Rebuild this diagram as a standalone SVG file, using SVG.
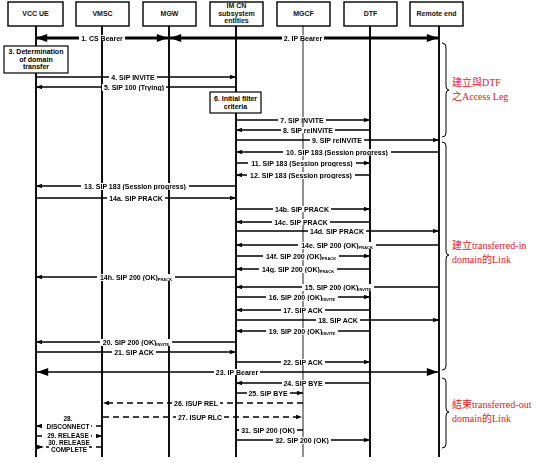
<svg xmlns="http://www.w3.org/2000/svg" width="550" height="463" viewBox="0 0 550 463">
<style>
.hdr{fill:#fff;stroke:#000;stroke-width:1.4}
.ht{font-family:"Liberation Sans",Arial,sans-serif;font-size:7px;font-weight:bold;text-anchor:middle;fill:#111}
.life{stroke:#111;stroke-width:2}
.thin{stroke:#222;stroke-width:1}
.msg{stroke:#000;stroke-width:1.3;fill:none}
.dash{stroke:#000;stroke-width:1.5;fill:none;stroke-dasharray:6 4}
.bear{stroke:#000;stroke-width:3;fill:none}
.lbl{font-family:"Liberation Sans",Arial,sans-serif;font-size:7px;font-weight:bold;text-anchor:middle;fill:#000;filter:url(#bg)}
.sm{font-size:6.5px}
.sub{font-size:4px}
.box{fill:#fff;stroke:#000;stroke-width:1.2}
.bt{font-family:"Liberation Sans",Arial,sans-serif;font-size:7px;font-weight:bold;text-anchor:middle;fill:#000}
.brace{fill:none;stroke:#000;stroke-width:1}
.red{font-family:"Liberation Serif","Noto Sans CJK TC",serif;font-size:10px;fill:#e3161b}
</style>
<defs>
<filter id="bg" x="-0.03" y="0.1" width="1.06" height="0.8" color-interpolation-filters="sRGB"><feFlood flood-color="#fff"/><feComposite in="SourceGraphic"/></filter>
<marker id="ah" viewBox="0 0 8 6" refX="8" refY="3" markerWidth="7" markerHeight="4.5" orient="auto-start-reverse" markerUnits="userSpaceOnUse"><path d="M0,0 L8,3 L0,6 z" fill="#000"/></marker>
<marker id="big" viewBox="0 0 14 10" refX="14" refY="5" markerWidth="13" markerHeight="8" orient="auto-start-reverse" markerUnits="userSpaceOnUse"><path d="M0,0 L14,5 L0,10 z" fill="#000"/></marker>
</defs>
<rect width="550" height="463" fill="#fff"/>

<g id="vcc-ue">
<line class="life" x1="36" y1="26" x2="36" y2="457"/>
<rect class="hdr" x="8" y="2" width="55" height="24"/>
<text class="ht" x="35.5" y="16">VCC UE</text>
</g>
<g id="vmsc">
<line class="life" x1="102" y1="26" x2="102" y2="457"/>
<rect class="hdr" x="76" y="2" width="53" height="24"/>
<text class="ht" x="102.5" y="16">VMSC</text>
</g>
<g id="mgw">
<line class="life" x1="169" y1="26" x2="169" y2="457"/>
<rect class="hdr" x="143" y="2" width="53" height="24"/>
<text class="ht" x="169.5" y="16">MGW</text>
</g>
<g id="imcn">
<line class="life" x1="236" y1="26" x2="236" y2="457" stroke-width="2.4"/>
<rect class="hdr" x="210" y="2" width="53" height="24"/>
<text class="ht" x="236.5" y="8">IM CN</text>
<text class="ht" x="236.5" y="15.5">subsystem</text>
<text class="ht" x="236.5" y="23">entities</text>
</g>
<g id="mgcf">
<line class="thin" x1="303" y1="26" x2="303" y2="457"/>
<rect class="hdr" x="277" y="2" width="53" height="24"/>
<text class="ht" x="303.5" y="16">MGCF</text>
</g>
<g id="dtf">
<line class="life" x1="370" y1="26" x2="370" y2="457"/>
<rect class="hdr" x="344" y="2" width="53" height="24"/>
<text class="ht" x="370.5" y="16">DTF</text>
</g>
<g id="remote-end">
<line class="life" x1="439" y1="26" x2="439" y2="457" stroke-width="2.4"/>
<rect class="hdr" x="410" y="2" width="53" height="24"/>
<text class="ht" x="436.5" y="16">Remote end</text>
</g>

<g id="connectors">
<line class="bear" x1="36" y1="38" x2="168" y2="38" marker-start="url(#big)" marker-end="url(#big)"/>
<text class="lbl" x="102" y="40.5">1. CS Bearer</text>
<line class="bear" x1="170" y1="38" x2="438" y2="38" marker-start="url(#big)" marker-end="url(#big)"/>
<text class="lbl" x="303" y="40.5">2. IP Bearer</text>

<line class="msg" x1="36" y1="77" x2="236" y2="77" marker-end="url(#ah)"/>
<text class="lbl" x="133" y="79.5">4. SIP INVITE</text>
<line class="msg" x1="236" y1="87" x2="36" y2="87" marker-end="url(#ah)"/>
<text class="lbl" x="134" y="89.5">5. SIP 100 (Trying)</text>

<line class="msg" x1="236" y1="120" x2="370" y2="120" marker-end="url(#ah)"/>
<text class="lbl" x="302" y="122.5">7. SIP INVITE</text>
<line class="msg" x1="370" y1="130" x2="236" y2="130" marker-end="url(#ah)"/>
<text class="lbl" x="308" y="132.5">8. SIP reINVITE</text>
<line class="msg" x1="236" y1="140" x2="439" y2="140" marker-end="url(#ah)"/>
<text class="lbl" x="337" y="142.5">9. SIP reINVITE</text>
<line class="msg" x1="439" y1="152" x2="236" y2="152" marker-end="url(#ah)"/>
<text class="lbl" x="337" y="154.5">10. SIP 183 (Session progress)</text>
<line class="msg" x1="236" y1="163" x2="370" y2="163" marker-end="url(#ah)"/>
<text class="lbl" x="302" y="165.5">11. SIP 183 (Session progress)</text>
<line class="msg" x1="370" y1="175" x2="236" y2="175" marker-end="url(#ah)"/>
<text class="lbl" x="301" y="177.5">12. SIP 183 (Session progress)</text>
<line class="msg" x1="236" y1="186" x2="36" y2="186" marker-end="url(#ah)"/>
<text class="lbl" x="135" y="188.5">13. SIP 183 (Session progress)</text>

<line class="msg" x1="36" y1="198" x2="236" y2="198" marker-end="url(#ah)"/>
<text class="lbl" x="136" y="200.5">14a. SIP PRACK</text>
<line class="msg" x1="236" y1="209" x2="370" y2="209" marker-end="url(#ah)"/>
<text class="lbl" x="302" y="211.5">14b. SIP PRACK</text>
<line class="msg" x1="370" y1="222" x2="236" y2="222" marker-end="url(#ah)"/>
<text class="lbl" x="301" y="224.5">14c. SIP PRACK</text>
<line class="msg" x1="236" y1="231" x2="439" y2="231" marker-end="url(#ah)"/>
<text class="lbl" x="337" y="233.5">14d. SIP PRACK</text>
<line class="msg" x1="439" y1="245" x2="236" y2="245" marker-end="url(#ah)"/>
<text class="lbl" x="337" y="247.5">14e. SIP 200 (OK)<tspan class="sub" dy="1">PRACK</tspan></text>
<line class="msg" x1="236" y1="256" x2="370" y2="256" marker-end="url(#ah)"/>
<text class="lbl" x="301" y="258.5">14f. SIP 200 (OK)<tspan class="sub" dy="1">PRACK</tspan></text>
<line class="msg" x1="370" y1="269" x2="236" y2="269" marker-end="url(#ah)"/>
<text class="lbl" x="298" y="271.5">14g. SIP 200 (OK)<tspan class="sub" dy="1">PRACK</tspan></text>
<line class="msg" x1="236" y1="277" x2="36" y2="277" marker-end="url(#ah)"/>
<text class="lbl" x="136" y="279.5">14h. SIP 200 (OK)<tspan class="sub" dy="1">PRACK</tspan></text>

<line class="msg" x1="439" y1="287" x2="236" y2="287" marker-end="url(#ah)"/>
<text class="lbl" x="338" y="289.5">15. SIP 200 (OK)<tspan class="sub" dy="1">INVITE</tspan></text>
<line class="msg" x1="236" y1="297" x2="370" y2="297" marker-end="url(#ah)"/>
<text class="lbl" x="302" y="299.5">16. SIP 200 (OK)<tspan class="sub" dy="1">INVITE</tspan></text>
<line class="msg" x1="370" y1="310" x2="236" y2="310" marker-end="url(#ah)"/>
<text class="lbl" x="303" y="312.5">17. SIP ACK</text>
<line class="msg" x1="236" y1="320" x2="439" y2="320" marker-end="url(#ah)"/>
<text class="lbl" x="338" y="322.5">18. SIP ACK</text>
<line class="msg" x1="370" y1="331" x2="236" y2="331" marker-end="url(#ah)"/>
<text class="lbl" x="302" y="333.5">19. SIP 200 (OK)<tspan class="sub" dy="1">INVITE</tspan></text>
<line class="msg" x1="236" y1="342" x2="36" y2="342" marker-end="url(#ah)"/>
<text class="lbl" x="136" y="344.5">20. SIP 200 (OK)<tspan class="sub" dy="1">INVITE</tspan></text>
<line class="msg" x1="36" y1="352" x2="236" y2="352" marker-end="url(#ah)"/>
<text class="lbl" x="134" y="354.5">21. SIP ACK</text>
<line class="msg" x1="236" y1="362" x2="370" y2="362" marker-end="url(#ah)"/>
<text class="lbl" x="303" y="364.5">22. SIP ACK</text>
<line class="msg" x1="37" y1="372" x2="438" y2="372" stroke-width="1.6" marker-start="url(#big)" marker-end="url(#big)"/>
<text class="lbl" x="237" y="374.5">23. IP Bearer</text>

<line class="msg" x1="370" y1="383" x2="236" y2="383" marker-end="url(#ah)"/>
<text class="lbl" x="303" y="385.5">24. SIP BYE</text>
<line class="msg" x1="236" y1="393" x2="303" y2="393" marker-end="url(#ah)"/>
<text class="lbl" x="268" y="395.5">25. SIP BYE</text>
<line class="dash" x1="303" y1="403" x2="103" y2="403" marker-end="url(#ah)"/>
<text class="lbl" x="196" y="405.5">26. ISUP REL</text>
<line class="dash" x1="103" y1="417" x2="302" y2="417" marker-end="url(#ah)"/>
<text class="lbl" x="200" y="419.5">27. ISUP RLC</text>
<line class="msg" x1="303" y1="430" x2="236" y2="430" marker-end="url(#ah)"/>
<text class="lbl" x="268" y="432.5">31. SIP 200 (OK)</text>
<line class="msg" x1="236" y1="440" x2="370" y2="440" marker-end="url(#ah)"/>
<text class="lbl" x="302" y="442.5">32. SIP 200 (OK)</text>

<line class="dash" x1="102" y1="426" x2="36" y2="426" marker-end="url(#ah)"/>
<text class="lbl sm" x="68" y="421">28.</text>
<text class="lbl sm" x="68" y="428.5">DISCONNECT</text>
<line class="dash" x1="36" y1="436" x2="102" y2="436" marker-end="url(#ah)"/>
<text class="lbl sm" x="68" y="438.3">29. RELEASE</text>
<line class="dash" x1="36" y1="447" x2="102" y2="447"/>
<path d="M37,444.8 L44,447 L37,449.2 z" fill="#000"/>
<text class="lbl sm" x="69" y="445.3">30. RELEASE</text>
<text class="lbl sm" x="69" y="452">COMPLETE</text>
</g>

<g id="step3">
<rect class="box" x="4" y="46" width="64" height="27"/>
<text class="bt" x="36" y="54">3. Determination</text>
<text class="bt" x="36" y="61.5">of domain</text>
<text class="bt" x="36" y="69">transfer</text>
</g>
<g id="step6">
<rect class="box" x="210" y="92" width="51" height="21"/>
<text class="bt" x="235.5" y="101">6. Initial filter</text>
<text class="bt" x="235.5" y="109">criteria</text>
</g>

<g id="annotations">
<path class="brace" d="M442,43 Q446,43 446,47 L446,86 Q446,90 449,90 Q446,90 446,94 L446,133 Q446,137 442,137"/>
<text class="red" x="452" y="86">建立與DTF</text>
<text class="red" x="452" y="100">之Access Leg</text>
<path class="brace" d="M442,142 Q446,142 446,146 L446,251 Q446,255 449,255 Q446,255 446,259 L446,366 Q446,370 442,370"/>
<text class="red" x="452" y="249">建立transferred-in</text>
<text class="red" x="452" y="263">domain的Link</text>
<path class="brace" d="M442,378 Q446,378 446,382 L446,408 Q446,412 449,412 Q446,412 446,416 L446,444 Q446,448 442,448"/>
<text class="red" x="452" y="408">結束transferred-out</text>
<text class="red" x="452" y="422">domain的Link</text>
</g>
</svg>
